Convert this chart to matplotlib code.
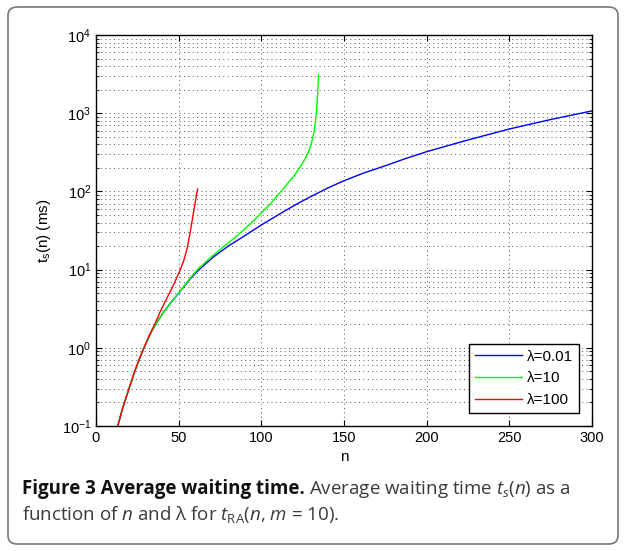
import numpy as np
import matplotlib.pyplot as plt
from matplotlib.patches import FancyBboxPatch
from matplotlib.ticker import LogLocator, NullFormatter

# values (n, t_s in ms)
n_001 = [13.2, 16, 20, 23.2, 26, 29, 34.3, 40, 45, 50, 56.9, 61.3, 71, 80, 89, 100,
         108, 115, 122, 130, 140, 150, 162, 175, 187, 200, 225, 250, 275, 300]
t_001 = [0.1, 0.166, 0.302, 0.479, 0.692, 1.0, 1.72, 2.69, 3.72, 5.01, 7.59, 9.55,
         14.5, 20.0, 26.3, 37.2, 47.0, 57.5, 70.0, 86.0, 110, 137, 172, 213, 262,
         322, 455, 628, 830, 1070]

n_10 = [13.2, 16, 20, 23.2, 26, 29, 34.3, 40, 45, 50, 56.9, 61.3, 69, 77, 84, 90, 97,
        105, 111.5, 117, 120, 122.4, 124.5, 126, 127.4, 128.6, 129.8, 131, 132,
        132.8, 133.5, 134.1, 134.6]
t_10 = [0.1, 0.166, 0.302, 0.479, 0.692, 1.0, 1.72, 2.69, 3.72, 5.01, 7.76, 10.0,
        14.1, 19.5, 25.7, 33.1, 45.7, 67.6, 97.7, 135, 160, 191, 222, 251, 285, 325,
        385, 470, 600, 800, 1150, 1800, 3090]

n_100 = [13.1, 16, 20, 23.2, 26, 29, 32, 35.7, 39, 43, 46.8, 50.8, 53, 55, 57, 58.5,
         59.8, 60.7, 61.5]
t_100 = [0.1, 0.166, 0.302, 0.49, 0.708, 1.0, 1.41, 2.04, 2.95, 4.37, 6.31, 9.77,
         12.9, 18.2, 30.2, 46.8, 67.6, 89.1, 107]

labels = ['λ=0.01', 'λ=10', 'λ=100']
colors = ['#0000ff', '#00ff00', '#ff0000']

plt.rcParams['font.family'] = ['Liberation Sans', 'DejaVu Sans']
plt.rcParams['mathtext.fontset'] = 'custom'
plt.rcParams['mathtext.rm'] = 'Open Sans'
plt.rcParams['mathtext.it'] = 'Open Sans:italic'

fig = plt.figure(figsize=(6.26, 5.51), dpi=100)
W, H = 626.0, 551.0

# rounded frame around the figure
fig.patches.append(FancyBboxPatch((8 / W, 7 / H), 610 / W, 537 / H,
                                  boxstyle='round,pad=0,rounding_size=0.015',
                                  transform=fig.transFigure, fill=False,
                                  edgecolor='#777777', linewidth=1.2))

ax = fig.add_axes([96 / W, 1 - 426 / H, 496 / W, 391 / H])
for n, t, lab, c in zip([n_001, n_10, n_100], [t_001, t_10, t_100], labels, colors):
    ax.plot(n, t, color=c, linewidth=1.0, label=lab)

ax.set_yscale('log')
ax.set_xlim(0, 300)
ax.set_ylim(0.1, 1e4)
ax.set_xticks([0, 50, 100, 150, 200, 250, 300])
ax.yaxis.set_major_locator(LogLocator(base=10, numticks=10))
ax.yaxis.set_minor_locator(LogLocator(base=10, subs=np.arange(2, 10), numticks=10))
ax.yaxis.set_minor_formatter(NullFormatter())
grid_kw = dict(linestyle=(0, (1, 3.5)), color='#555555', linewidth=0.7)
ax.grid(True, which='major', **grid_kw)
ax.grid(True, which='minor', axis='y', **grid_kw)
ax.tick_params(which='both', direction='in', top=True, right=True, labelsize=10.5)
ax.tick_params(which='major', length=4)
ax.tick_params(which='minor', length=2)
for s in ax.spines.values():
    s.set_linewidth(1.0)

ax.set_xlabel('n', fontsize=11, labelpad=4)
ax.set_ylabel(r't$_{\mathregular{s}}$(n) (ms)', fontsize=11, labelpad=6)

leg = ax.legend(loc='lower right', fontsize=11, handlelength=3.1, handletextpad=0.3,
                borderaxespad=0.85, labelspacing=0.5, fancybox=False,
                framealpha=1, edgecolor='black', borderpad=0.4)
leg.get_frame().set_linewidth(1.0)

# caption
cap_font = ['Open Sans', 'DejaVu Sans']
fs = 13.5
fig.canvas.draw()
r = fig.canvas.get_renderer()
t1 = fig.text(22 / W, 1 - 494 / H, 'Figure 3 Average waiting time.', fontsize=fs,
              fontweight='bold', family=cap_font, va='baseline', color='#111111')
bb = t1.get_window_extent(renderer=r)
fig.text(bb.x1 / W + 4 / W, 1 - 494 / H,
         r'Average waiting time $t_s(n)$ as a', fontsize=fs,
         family=cap_font, va='baseline', color='#3a3a3a')
fig.text(22 / W, 1 - 520 / H,
         r'function of $n$ and λ for $t_{\mathrm{RA}}$($n$, $m$ = 10).', fontsize=fs,
         family=cap_font, va='baseline', color='#3a3a3a')

fig.savefig('out.png', dpi=100)
